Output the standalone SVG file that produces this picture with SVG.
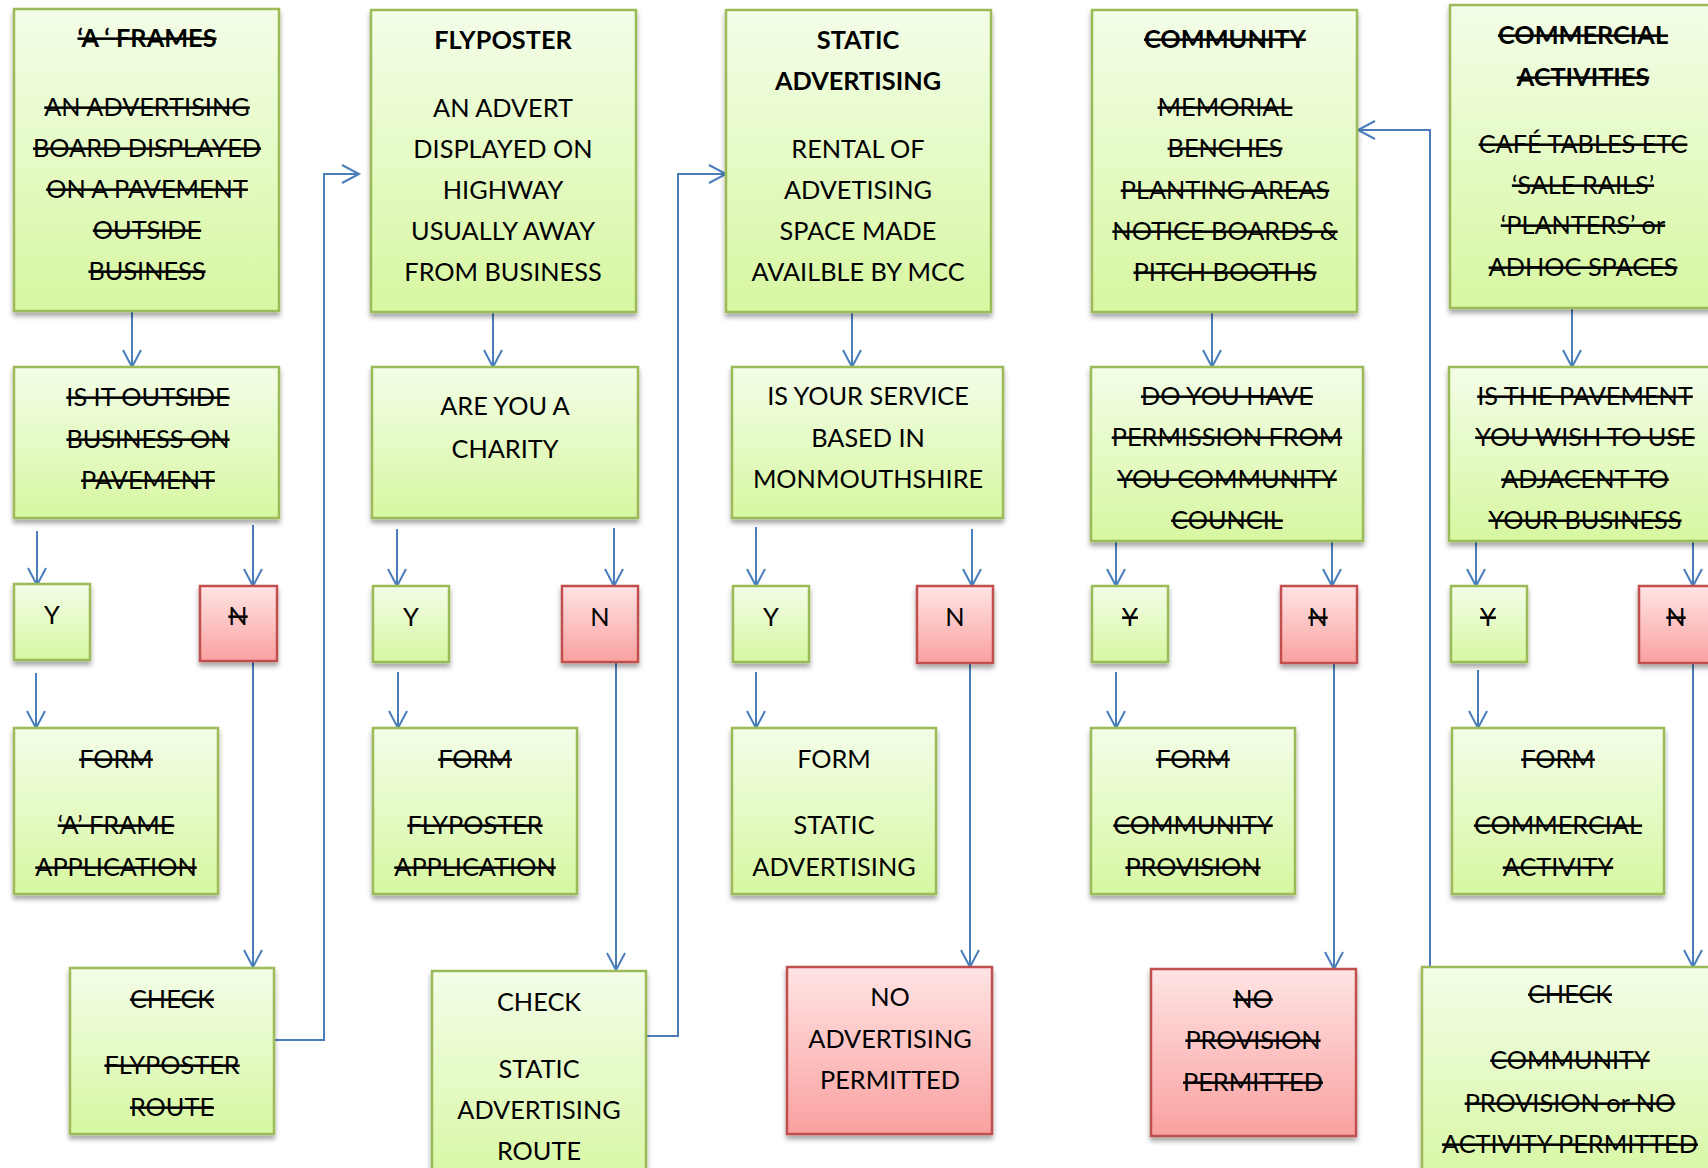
<svg xmlns="http://www.w3.org/2000/svg" width="1708" height="1168" viewBox="0 0 1708 1168">
<defs>
<linearGradient id="gg" x1="0" y1="0" x2="0" y2="1"><stop offset="0" stop-color="#f3fde8"/><stop offset="1" stop-color="#d7f7a1"/></linearGradient>
<linearGradient id="rg" x1="0" y1="0" x2="0" y2="1"><stop offset="0" stop-color="#ffe4e4"/><stop offset="1" stop-color="#f9a1a0"/></linearGradient>
<filter id="sh" x="-10%" y="-10%" width="130%" height="130%"><feDropShadow dx="0" dy="4" stdDeviation="2.5" flood-color="#000" flood-opacity="0.35"/></filter>
<marker id="ar" markerUnits="userSpaceOnUse" markerWidth="24" markerHeight="24" viewBox="-20 -12 24 24" refX="0" refY="0" orient="auto"><path d="M-17,-9 L0,0 L-17,9" fill="none" stroke="#4a7ebb" stroke-width="2"/></marker>
<style>
.g{fill:url(#gg);stroke:#9bbb59;stroke-width:2.5;filter:url(#sh)}
.r{fill:url(#rg);stroke:#c0504d;stroke-width:2.5;filter:url(#sh)}
text{font-family:Lato,"Liberation Sans",sans-serif;font-size:25.3px;fill:#000;text-anchor:middle}
.b{font-weight:bold}
.s{text-decoration:line-through}
.c path{fill:none;stroke:#4a7ebb;stroke-width:2}
.c .a{marker-end:url(#ar)}
</style>
</defs>
<g class="c" id="connectors">
<path class="a" d="M132,311V367"/>
<path class="a" d="M37,531V585"/>
<path class="a" d="M253,525V586"/>
<path class="a" d="M36,673V728"/>
<path class="a" d="M253,661V967"/>
<path class="a" d="M274,1040H324V174H359"/>
<path class="a" d="M493,312V367"/>
<path class="a" d="M397,529V586"/>
<path class="a" d="M614,528V586"/>
<path class="a" d="M398,672V728"/>
<path class="a" d="M616,662V970"/>
<path class="a" d="M634,1036H678V174H726"/>
<path class="a" d="M852,312V367"/>
<path class="a" d="M756,527V586"/>
<path class="a" d="M972,529V586"/>
<path class="a" d="M756,672V728"/>
<path class="a" d="M970,663V967"/>
<path class="a" d="M1212,312V367"/>
<path class="a" d="M1116,541V586"/>
<path class="a" d="M1332,541V586"/>
<path class="a" d="M1116,672V728"/>
<path class="a" d="M1334,663V969"/>
<path class="a" d="M1430,967V130H1358"/>
<path class="a" d="M1572,308V367"/>
<path class="a" d="M1476,541V586"/>
<path class="a" d="M1693,530V586"/>
<path class="a" d="M1478,670V728"/>
<path class="a" d="M1693,663V967"/>
</g>
<g id="aframes"><rect class="g" x="14" y="9" width="265" height="302"/>
<text class="b s" x="147" y="47">‘A ‘ FRAMES</text>
<text class="s" x="147" y="116">AN ADVERTISING</text><text class="s" x="147" y="157">BOARD DISPLAYED</text><text class="s" x="147" y="198">ON A PAVEMENT</text><text class="s" x="147" y="239">OUTSIDE</text><text class="s" x="147" y="280">BUSINESS</text></g>
<g id="q1"><rect class="g" x="14" y="367" width="265" height="151"/>
<text class="s" x="148" y="406">IS IT OUTSIDE</text><text class="s" x="148" y="448">BUSINESS ON</text><text class="s" x="148" y="489">PAVEMENT</text></g>
<g id="y1"><rect class="g" x="14" y="584" width="76" height="76"/><text x="52" y="624">Y</text></g>
<g id="n1"><rect class="r" x="200" y="586" width="77" height="75"/><text class="s" x="238" y="625">N</text></g>
<g id="f1"><rect class="g" x="14" y="728" width="204" height="166"/>
<text class="s" x="116" y="768">FORM</text><text class="s" x="116" y="834">‘A’ FRAME</text><text class="s" x="116" y="876">APPLICATION</text></g>
<g id="c1"><rect class="g" x="70" y="968" width="204" height="166"/>
<text class="s" x="172" y="1008">CHECK</text><text class="s" x="172" y="1074">FLYPOSTER</text><text class="s" x="172" y="1116">ROUTE</text></g>

<g id="flyposter"><rect class="g" x="371" y="10" width="265" height="302"/>
<text class="b" x="503" y="49">FLYPOSTER</text>
<text x="503" y="117">AN ADVERT</text><text x="503" y="158">DISPLAYED ON</text><text x="503" y="199">HIGHWAY</text><text x="503" y="240">USUALLY AWAY</text><text x="503" y="281">FROM BUSINESS</text></g>
<g id="q2"><rect class="g" x="372" y="367" width="266" height="151"/>
<text x="505" y="415">ARE YOU A</text><text x="505" y="458">CHARITY</text></g>
<g id="y2"><rect class="g" x="373" y="586" width="76" height="76"/><text x="411" y="626">Y</text></g>
<g id="n2"><rect class="r" x="562" y="586" width="76" height="76"/><text x="600" y="626">N</text></g>
<g id="f2"><rect class="g" x="373" y="728" width="204" height="166"/>
<text class="s" x="475" y="768">FORM</text><text class="s" x="475" y="834">FLYPOSTER</text><text class="s" x="475" y="876">APPLICATION</text></g>
<g id="c2"><rect class="g" x="432" y="971" width="214" height="220"/>
<text x="539" y="1011">CHECK</text><text x="539" y="1078">STATIC</text><text x="539" y="1119">ADVERTISING</text><text x="539" y="1160">ROUTE</text></g>

<g id="static"><rect class="g" x="726" y="10" width="265" height="302"/>
<text class="b" x="858" y="49">STATIC</text><text class="b" x="858" y="90">ADVERTISING</text>
<text x="858" y="158">RENTAL OF</text><text x="858" y="199">ADVETISING</text><text x="858" y="240">SPACE MADE</text><text x="858" y="281">AVAILBLE BY MCC</text></g>
<g id="q3"><rect class="g" x="732" y="367" width="271" height="151"/>
<text x="868" y="405">IS YOUR SERVICE</text><text x="868" y="447">BASED IN</text><text x="868" y="488">MONMOUTHSHIRE</text></g>
<g id="y3"><rect class="g" x="733" y="586" width="76" height="76"/><text x="771" y="626">Y</text></g>
<g id="n3"><rect class="r" x="917" y="586" width="76" height="77"/><text x="955" y="626">N</text></g>
<g id="f3"><rect class="g" x="732" y="728" width="204" height="166"/>
<text x="834" y="768">FORM</text><text x="834" y="834">STATIC</text><text x="834" y="876">ADVERTISING</text></g>
<g id="na"><rect class="r" x="787" y="967" width="205" height="167"/>
<text x="890" y="1006">NO</text><text x="890" y="1048">ADVERTISING</text><text x="890" y="1089">PERMITTED</text></g>

<g id="community"><rect class="g" x="1092" y="10" width="265" height="302"/>
<text class="b s" x="1225" y="48">COMMUNITY</text>
<text class="s" x="1225" y="116">MEMORIAL</text><text class="s" x="1225" y="157">BENCHES</text><text class="s" x="1225" y="199">PLANTING AREAS</text><text class="s" x="1225" y="240">NOTICE BOARDS &amp;</text><text class="s" x="1225" y="281">PITCH BOOTHS</text></g>
<g id="q4"><rect class="g" x="1091" y="367" width="272" height="174"/>
<text class="s" x="1227" y="405">DO YOU HAVE</text><text class="s" x="1227" y="446">PERMISSION FROM</text><text class="s" x="1227" y="488">YOU COMMUNITY</text><text class="s" x="1227" y="529">COUNCIL</text></g>
<g id="y4"><rect class="g" x="1092" y="586" width="76" height="76"/><text class="s" x="1130" y="626">Y</text></g>
<g id="n4"><rect class="r" x="1281" y="586" width="76" height="77"/><text class="s" x="1318" y="626">N</text></g>
<g id="f4"><rect class="g" x="1091" y="728" width="204" height="166"/>
<text class="s" x="1193" y="768">FORM</text><text class="s" x="1193" y="834">COMMUNITY</text><text class="s" x="1193" y="876">PROVISION</text></g>
<g id="np"><rect class="r" x="1151" y="969" width="205" height="167"/>
<text class="s" x="1253" y="1008">NO</text><text class="s" x="1253" y="1049">PROVISION</text><text class="s" x="1253" y="1091">PERMITTED</text></g>

<g id="commercial"><rect class="g" x="1450" y="5" width="265" height="303"/>
<text class="b s" x="1583" y="44">COMMERCIAL</text><text class="b s" x="1583" y="86">ACTIVITIES</text>
<text class="s" x="1583" y="153">CAFÉ TABLES ETC</text><text class="s" x="1583" y="194">‘SALE RAILS’</text><text class="s" x="1583" y="234">‘PLANTERS’ or</text><text class="s" x="1583" y="276">ADHOC SPACES</text></g>
<g id="q5"><rect class="g" x="1449" y="367" width="272" height="174"/>
<text class="s" x="1585" y="405">IS THE PAVEMENT</text><text class="s" x="1585" y="446">YOU WISH TO USE</text><text class="s" x="1585" y="488">ADJACENT TO</text><text class="s" x="1585" y="529">YOUR BUSINESS</text></g>
<g id="y5"><rect class="g" x="1451" y="586" width="76" height="76"/><text class="s" x="1488" y="626">Y</text></g>
<g id="n5"><rect class="r" x="1639" y="586" width="76" height="77"/><text class="s" x="1676" y="626">N</text></g>
<g id="f5"><rect class="g" x="1452" y="728" width="212" height="166"/>
<text class="s" x="1558" y="768">FORM</text><text class="s" x="1558" y="834">COMMERCIAL</text><text class="s" x="1558" y="876">ACTIVITY</text></g>
<g id="c5"><rect class="g" x="1422" y="967" width="296" height="220"/>
<text class="s" x="1570" y="1003">CHECK</text><text class="s" x="1570" y="1069">COMMUNITY</text><text class="s" x="1570" y="1112">PROVISION or NO</text><text class="s" x="1570" y="1153">ACTIVITY PERMITTED</text></g>
</svg>
